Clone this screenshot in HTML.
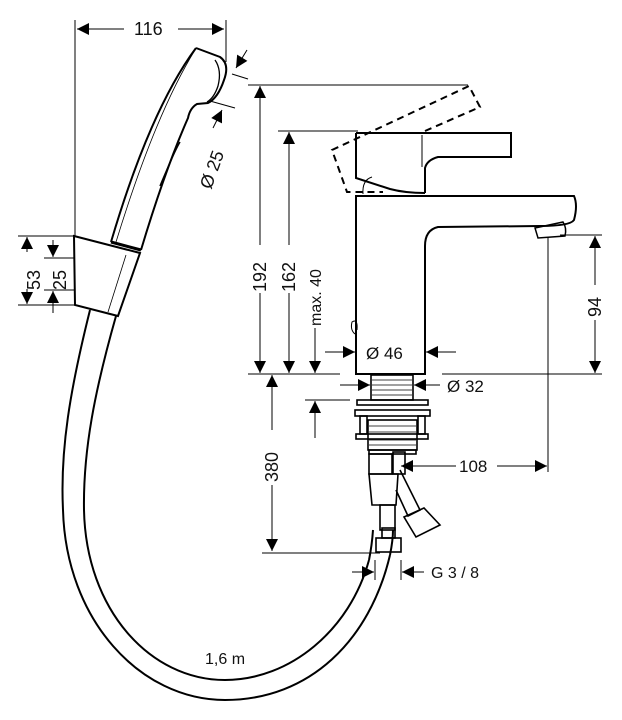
<!DOCTYPE html>
<html><head><meta charset="utf-8"><style>
html,body{margin:0;padding:0;background:#fff;}
svg{display:block;}
text{font-family:"Liberation Sans",sans-serif;fill:#111;}
</style></head><body>
<svg width="622" height="720" viewBox="0 0 622 720" xmlns="http://www.w3.org/2000/svg">
<defs>
<marker id="a" viewBox="0 0 10 10" refX="10" refY="5" markerWidth="13" markerHeight="12" orient="auto-start-reverse" markerUnits="userSpaceOnUse"><path d="M0,0 L10,5 L0,10z" fill="#000"/></marker>
</defs>
<g fill="none" stroke="#000" stroke-width="1">
<line x1="75" y1="20" x2="75" y2="236"/>
<line x1="226" y1="20" x2="226" y2="62"/>
<line x1="77" y1="29" x2="124" y2="29" marker-start="url(#a)"/>
<line x1="178" y1="29" x2="224" y2="29" marker-end="url(#a)"/>
<line x1="18" y1="236" x2="75" y2="236"/>
<line x1="44" y1="258" x2="75" y2="258"/>
<line x1="44" y1="290" x2="75" y2="290"/>
<line x1="18" y1="305" x2="75" y2="305"/>
<line x1="27" y1="252" x2="27" y2="237" marker-end="url(#a)"/>
<line x1="27" y1="289" x2="27" y2="304" marker-end="url(#a)"/>
<line x1="53" y1="240" x2="53" y2="257" marker-end="url(#a)"/>
<line x1="53" y1="313" x2="53" y2="291" marker-end="url(#a)"/>
<line x1="247" y1="50" x2="236" y2="68" marker-end="url(#a)"/>
<line x1="232" y1="74" x2="248" y2="79"/>
<line x1="210" y1="101" x2="235" y2="108"/>
<line x1="213" y1="128" x2="222" y2="110" marker-end="url(#a)"/>
</g>
<text font-size="18" transform="translate(211,190) rotate(-70)">Ø 25</text>
<text x="134" y="35" font-size="18">116</text>
<text font-size="18" transform="translate(40,290) rotate(-90)">53</text>
<text font-size="18" transform="translate(66,290) rotate(-90)">25</text>

<g fill="none" stroke="#000" stroke-width="2">
<path d="M196,48 Q150,110 111,242"/>
<path d="M196,48 L220,57 Q230,64 224,80 Q218,98 208,103 L197,104 Q190,108 188,118 Q165,170 141,250"/>
<path d="M215,60 Q222,70 218,86 Q214,98 207,102" stroke-width="1.3"/>
<path d="M195,50 Q155,115 116,242" stroke-width="0.8"/>
<path d="M180,142 Q175,150 160,186" stroke-width="1.5"/>
<path d="M111,242 L141,250" stroke-width="3"/>
<path d="M74,236 L140,253 L118,316 L75,305 Z"/>
<path d="M126,255 L108,312" stroke-width="0.8"/>
<path d="M90,310 C70,390 60,450 63,510 C66,620 140,700 225,700 C310,700 370,640 390,555"/>
<path d="M116,316 C95,390 83,450 84,510 C86,610 150,680 225,680 C290,680 350,630 369,560"/>
<path d="M369,560 Q372,545 373,530"/>
<path d="M390,555 Q393,540 393,530"/>
</g>
<text x="205" y="664" font-size="16">1,6 m</text>

<path d="M425,131 L480,107 L469,86 L332,150 L347,192 L383,192" fill="none" stroke="#000" stroke-width="2" stroke-dasharray="7,5"/>
<g fill="none" stroke="#000" stroke-width="2">
<path d="M356,133 L511,133 L511,157 L438,157 Q427,160 425,168 L425,193"/>
<path d="M356,133 L356,178 L390,189 Q405,193 425,193"/>
<path d="M422,135 L422,167" stroke-width="1"/>
<path d="M363,194 Q362,180 372,177" stroke-width="1"/>
<path d="M356,196 L574,196 Q578,205 574,220 Q570,226 540,226 L438,227 Q425,230 425,246 L425,374 L356,374 Z"/>
<path d="M535,228 L563,222 Q567,228 565,236 L538,238 Z" stroke-width="1.5"/>
<path d="M355,334 Q350,330 352,322 Q358,318 357,330" stroke-width="1"/>
</g>
<g fill="none" stroke="#000" stroke-width="1">
<line x1="248" y1="85" x2="468" y2="85"/>
<line x1="278" y1="131" x2="358" y2="131"/>
<line x1="248" y1="374" x2="340" y2="374"/>
<line x1="442" y1="374" x2="602" y2="374"/>
<line x1="260" y1="245" x2="260" y2="86" marker-end="url(#a)"/>
<line x1="260" y1="293" x2="260" y2="373" marker-end="url(#a)"/>
<line x1="289" y1="245" x2="289" y2="132" marker-end="url(#a)"/>
<line x1="289" y1="293" x2="289" y2="373" marker-end="url(#a)"/>
<line x1="315" y1="328" x2="315" y2="373" marker-end="url(#a)"/>
<line x1="560" y1="235" x2="602" y2="235"/>
<line x1="595" y1="285" x2="595" y2="236" marker-end="url(#a)"/>
<line x1="595" y1="320" x2="595" y2="373" marker-end="url(#a)"/>
<line x1="325" y1="352" x2="355" y2="352" marker-end="url(#a)"/>
<line x1="456" y1="352" x2="426" y2="352" marker-end="url(#a)"/>
<line x1="340" y1="385" x2="370" y2="385" marker-end="url(#a)"/>
<line x1="440" y1="385" x2="414" y2="385" marker-end="url(#a)"/>
<line x1="272" y1="430" x2="272" y2="375" marker-end="url(#a)"/>
<line x1="272" y1="485" x2="272" y2="551" marker-end="url(#a)"/>
<line x1="262" y1="553" x2="380" y2="553"/>
<line x1="305" y1="400" x2="350" y2="400"/>
<line x1="315" y1="438" x2="315" y2="401" marker-end="url(#a)"/>
<line x1="456" y1="466" x2="401" y2="466" marker-end="url(#a)"/>
<line x1="497" y1="466" x2="547" y2="466" marker-end="url(#a)"/>
<line x1="548" y1="237" x2="548" y2="472"/>
<line x1="375" y1="560" x2="375" y2="580"/>
<line x1="401" y1="560" x2="401" y2="580"/>
<line x1="352" y1="572" x2="374" y2="572" marker-end="url(#a)"/>
<line x1="424" y1="572" x2="402" y2="572" marker-end="url(#a)"/>
</g>
<text font-size="18" transform="translate(266,292) rotate(-90)">192</text>
<text font-size="18" transform="translate(295,292) rotate(-90)">162</text>
<text font-size="16" transform="translate(321,326) rotate(-90)">max. 40</text>
<text font-size="18" transform="translate(601,317) rotate(-90)">94</text>
<text font-size="18" transform="translate(278,482) rotate(-90)">380</text>
<text x="366" y="359" font-size="17">Ø 46</text>
<text x="447" y="392" font-size="17">Ø 32</text>
<text x="459" y="472" font-size="17">108</text>
<text x="431" y="578" font-size="16">G 3 / 8</text>

<g fill="none" stroke="#000" stroke-width="1.6">
<rect x="371" y="375" width="42" height="25"/>
<rect x="357" y="400" width="71" height="5"/>
<rect x="355" y="410" width="75" height="6"/>
<rect x="360" y="416" width="7" height="18"/>
<rect x="418" y="416" width="7" height="18"/>
<rect x="356" y="434" width="72" height="5"/>
<rect x="368" y="420" width="49" height="30"/>
<rect x="369" y="450" width="47" height="4"/>
<rect x="369" y="454" width="23" height="20"/>
<rect x="393" y="452" width="12" height="22"/>
<path d="M369,474 L398,474 L396,505 L372,505 Z"/>
<rect x="380" y="505" width="15" height="25"/>
<rect x="376" y="538" width="25" height="14"/>
<rect x="382" y="528" width="13" height="10"/>
<path d="M400,470 L420,510 L408,516 L396,490"/>
<path d="M404,517 L424,508 L440,525 L416,537 Z"/>
</g>
<g stroke="#000" stroke-width="0.8">
<line x1="372" y1="380" x2="412" y2="380"/><line x1="372" y1="385" x2="412" y2="385"/>
<line x1="372" y1="390" x2="412" y2="390"/><line x1="372" y1="395" x2="412" y2="395"/>
<line x1="369" y1="426" x2="416" y2="426"/><line x1="369" y1="432" x2="416" y2="432"/>
<line x1="369" y1="440" x2="416" y2="440"/><line x1="369" y1="445" x2="416" y2="445"/>
</g>
</svg>
</body></html>
